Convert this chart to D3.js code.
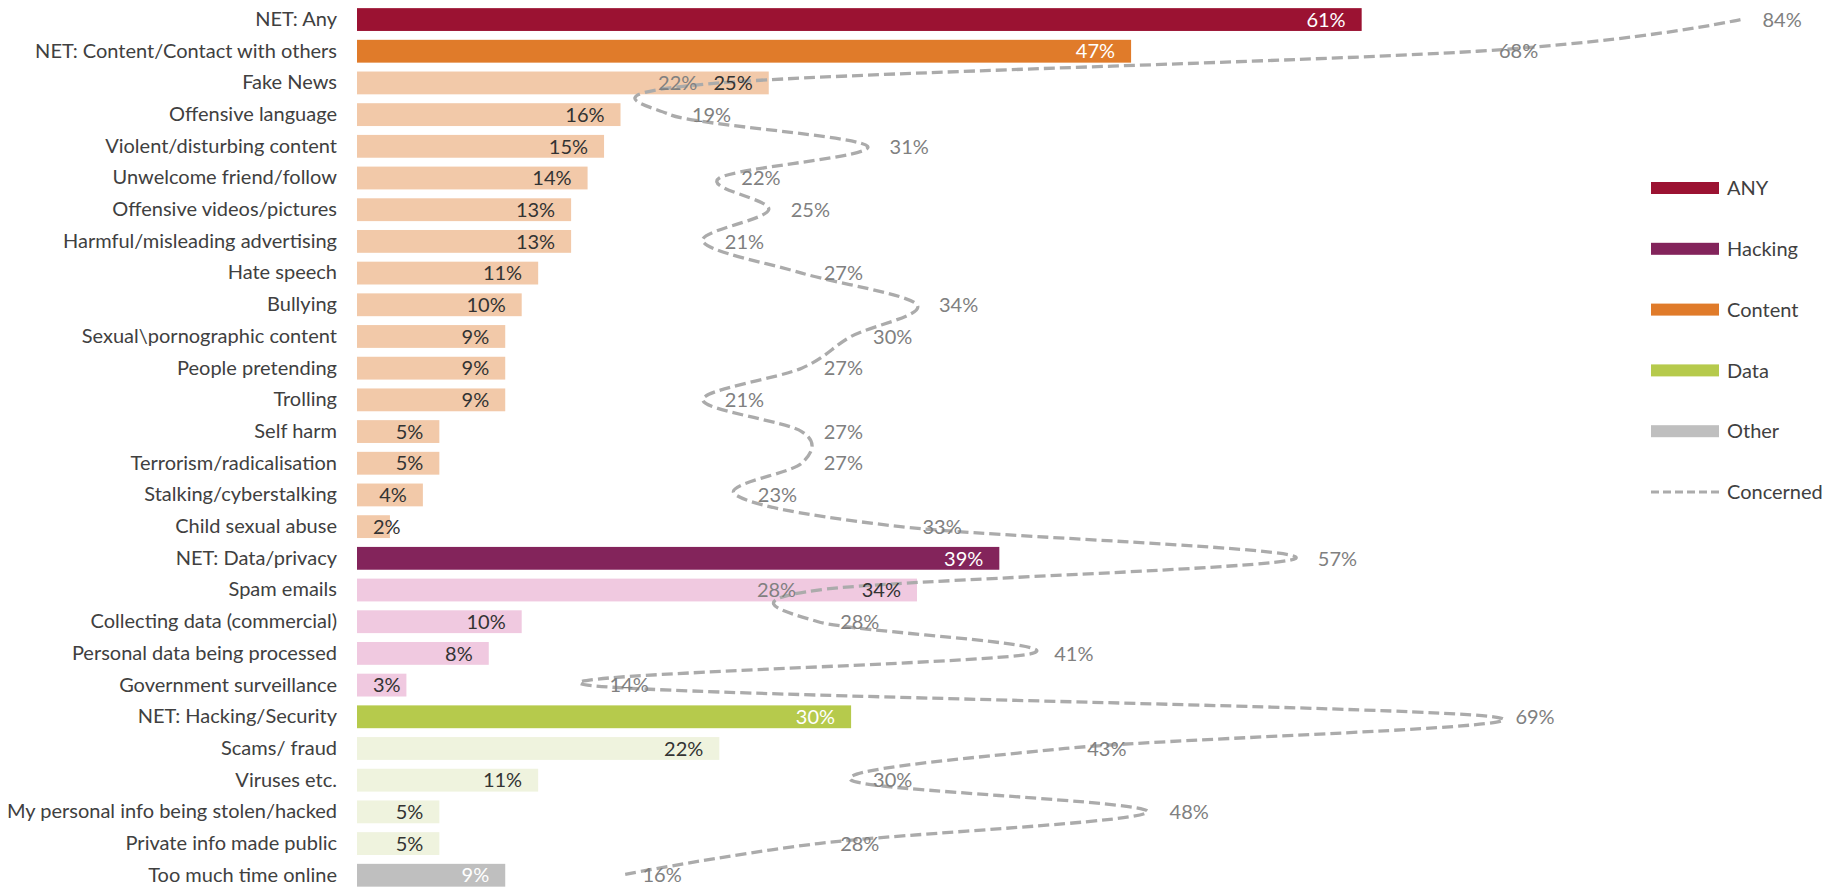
<!DOCTYPE html>
<html>
<head>
<meta charset="utf-8">
<script src="https://cdn.jsdelivr.net/npm/d3@7"></script>
<style>
  body { margin: 0; background: #fff; }
  svg { display: block; font-family: Lato, "Liberation Sans", sans-serif; }
</style>
</head>
<body>
<svg id="chart" width="1833" height="888"></svg>
<script>
// categories, top to bottom
var categories = [
  "NET: Any", "NET: Content/Contact with others", "Fake News", "Offensive language",
  "Violent/disturbing content", "Unwelcome friend/follow", "Offensive videos/pictures",
  "Harmful/misleading advertising", "Hate speech", "Bullying", "Sexual\\pornographic content",
  "People pretending", "Trolling", "Self harm", "Terrorism/radicalisation",
  "Stalking/cyberstalking", "Child sexual abuse", "NET: Data/privacy", "Spam emails",
  "Collecting data (commercial)", "Personal data being processed", "Government surveillance",
  "NET: Hacking/Security", "Scams/ fraud", "Viruses etc.", "My personal info being stolen/hacked",
  "Private info made public", "Too much time online"
];

// experienced (bars), %
var experienced = [61, 47, 25, 16, 15, 14, 13, 13, 11, 10, 9, 9, 9, 5, 5, 4, 2,
                   39, 34, 10, 8, 3, 30, 22, 11, 5, 5, 9];

// concerned (dashed line), %
var concerned = [84, 68, 22, 19, 31, 22, 25, 21, 27, 34, 30, 27, 21, 27, 27, 23, 33,
                 57, 28, 28, 41, 14, 69, 43, 30, 48, 28, 16];

// which group each bar belongs to
var groups = ["any", "content", "contentSub", "contentSub", "contentSub", "contentSub", "contentSub",
              "contentSub", "contentSub", "contentSub", "contentSub", "contentSub", "contentSub",
              "contentSub", "contentSub", "contentSub", "contentSub",
              "data", "dataSub", "dataSub", "dataSub", "dataSub",
              "hack", "hackSub", "hackSub", "hackSub", "hackSub", "other"];

// line labels that sit on the left of their point
var leftLabels = ["Fake News", "Spam emails"];

var legendNames = ["ANY", "Hacking", "Content", "Data", "Other", "Concerned"];

var colors = {
  any: "#9B1232", content: "#E07B2A", contentSub: "#F2C9A9",
  data: "#83245B", dataSub: "#F0C9E0",
  hack: "#B6CA4C", hackSub: "#EFF3DE", other: "#BFBFBF"
};
var darkBars = ["any", "content", "data", "hack", "other"];
var legendColors = ["#9B1232", "#83245B", "#E07B2A", "#B6CA4C", "#BFBFBF"];
var lineColor = "#ABABAB";

var rows = categories.map(function(c, i){
  return { cat: c, bar: experienced[i], con: concerned[i], group: groups[i] };
});

var svg = d3.select("#chart");

var x = d3.scaleLinear().domain([0, 100]).range([357, 2004]);
var y = d3.scaleBand().domain(categories).range([3.7, 891.1])
  .paddingInner(0.28).paddingOuter(0.14);
var bw = y.bandwidth();

// category axis
var axis = svg.append("g")
  .attr("transform", "translate(" + x(0) + ",0)")
  .call(d3.axisLeft(y).tickSize(0).tickPadding(20));
axis.select(".domain").remove();
axis.selectAll("text")
  .attr("fill", "#404040")
  .style("font-size", "20px")
  .style("font-family", "Lato, 'Liberation Sans', sans-serif");

// bars
svg.append("g").selectAll("rect").data(rows).enter().append("rect")
  .attr("x", x(0))
  .attr("y", function(d){ return y(d.cat); })
  .attr("width", function(d){ return x(d.bar) - x(0); })
  .attr("height", bw)
  .attr("fill", function(d){ return colors[d.group]; });

// concerned line
var line = d3.line()
  .x(function(d){ return x(d.con); })
  .y(function(d){ return y(d.cat) + bw / 2; })
  .curve(d3.curveCatmullRom.alpha(0));

svg.append("path")
  .datum(rows)
  .attr("d", line)
  .attr("fill", "none")
  .attr("stroke", lineColor)
  .attr("stroke-width", 3.3)
  .attr("stroke-dasharray", "11,5");

// bar labels
var barLabels = svg.append("g").selectAll("text").data(rows).enter().append("text")
  .attr("x", function(d){ return x(d.bar) - 16; })
  .attr("y", function(d){ return y(d.cat) + bw / 2; })
  .attr("dy", "0.36em")
  .attr("text-anchor", "end")
  .style("font-size", "20px")
  .attr("fill", function(d){ return darkBars.indexOf(d.group) >= 0 ? "#fff" : "#333"; })
  .text(function(d){ return d.bar + "%"; });

// small bars: push label to start inside the bar
barLabels.each(function(d){
  var w = this.getComputedTextLength();
  if (x(d.bar) - 16 - w < x(0) + 16) {
    d3.select(this).attr("text-anchor", "start").attr("x", x(0) + 16);
  }
});

// line labels
svg.append("g").selectAll("text").data(rows).enter().append("text")
  .attr("x", function(d){
    return leftLabels.indexOf(d.cat) >= 0 ? x(d.con) - 22 : x(d.con) + 22;
  })
  .attr("y", function(d){ return y(d.cat) + bw / 2; })
  .attr("dy", "0.36em")
  .attr("text-anchor", function(d){ return leftLabels.indexOf(d.cat) >= 0 ? "end" : "start"; })
  .style("font-size", "20px")
  .attr("fill", "#808080")
  .text(function(d){ return d.con + "%"; });

// legend
var legend = svg.append("g").attr("transform", "translate(1651,188)");
var item = legend.selectAll("g").data(legendNames).enter().append("g")
  .attr("transform", function(d, i){ return "translate(0," + (i * 60.8) + ")"; });

item.filter(function(d, i){ return i < 5; }).append("rect")
  .attr("x", 0).attr("y", -6).attr("width", 68).attr("height", 12)
  .attr("fill", function(d, i){ return legendColors[i]; });

item.filter(function(d, i){ return i == 5; }).append("line")
  .attr("x1", 0).attr("x2", 68).attr("y1", 0).attr("y2", 0)
  .attr("stroke", lineColor).attr("stroke-width", 3)
  .attr("stroke-dasharray", "8,4");

item.append("text")
  .attr("x", 76).attr("dy", "0.36em")
  .style("font-size", "20px")
  .attr("fill", "#404040")
  .text(function(d){ return d; });
</script>
</body>
</html>
